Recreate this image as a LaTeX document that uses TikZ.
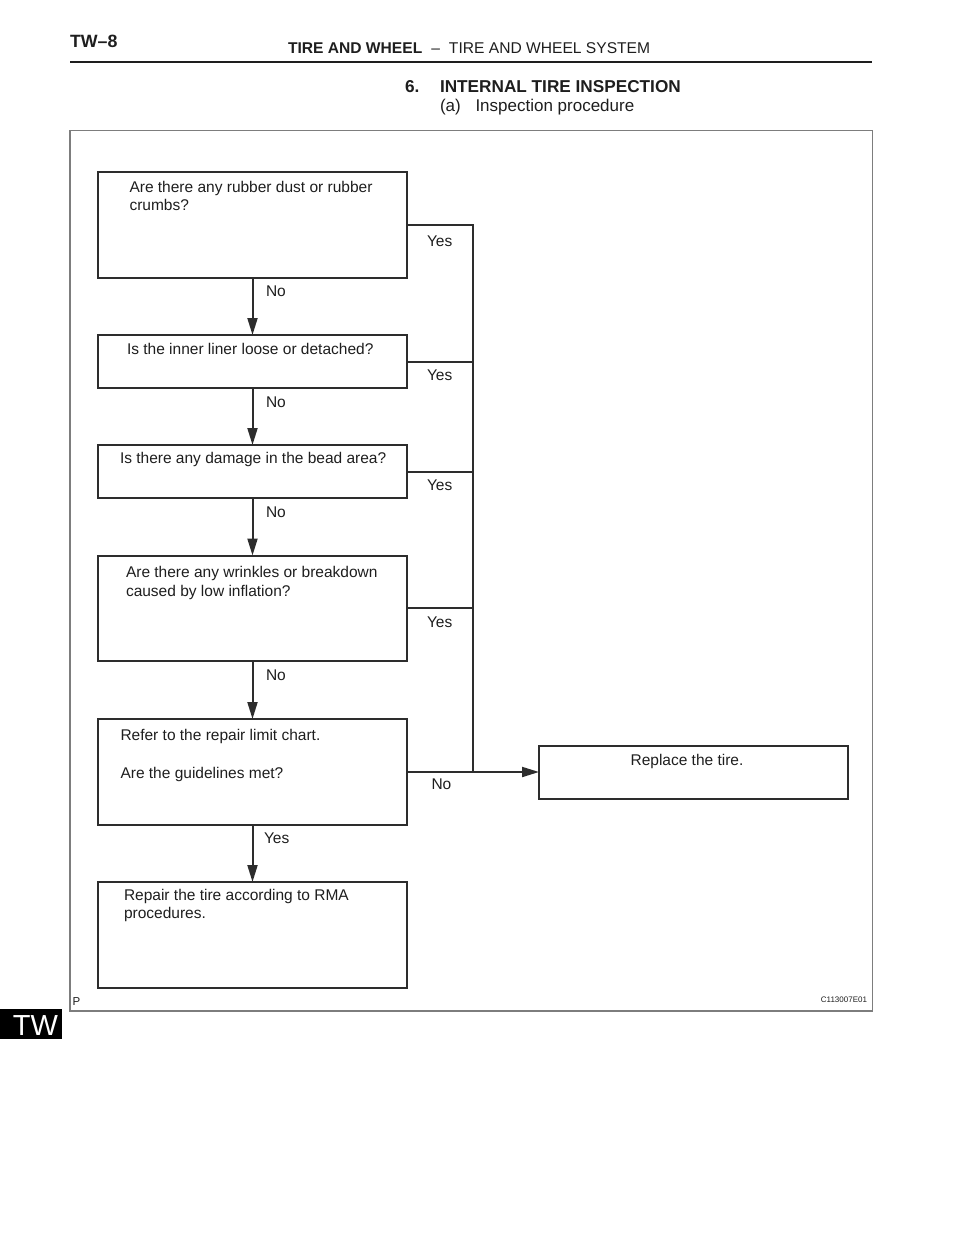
\documentclass[tikz,border=0pt]{standalone}
\usepackage{fontspec}
\setmainfont{Liberation Sans}
\usetikzlibrary{arrows.meta,positioning,calc}
\definecolor{twline}{RGB}{45,45,45}
\definecolor{twframe}{RGB}{125,125,125}
\definecolor{twtext}{RGB}{30,30,30}

\begin{document}
\begin{tikzpicture}[x=1pt, y=-1pt,
    every node/.style={inner sep=0pt, outer sep=0pt, text=twtext, font=\fontsize{15.5}{19}\selectfont},
    qbox/.style={draw=twline, line width=2pt, minimum width=309pt, anchor=north west},
    tallbox/.style={qbox, minimum height=105.5pt},
    shortbox/.style={qbox, minimum height=53pt},
    qtext/.style={anchor=base west},
    link/.style={draw=twline, line width=2pt},
    arr/.style={link, -{Triangle[length=17pt, width=10pt]}}]
    \useasboundingbox (0,0) rectangle (960,1242);

    % Page header
    \node[qtext, font=\fontsize{17.8}{20}\selectfont\bfseries] (page) at (70,47.7) {TW--8};
    \node[qtext, font=\fontsize{15.6}{18}\selectfont] (title) at (288,53.7)
        {\textbf{TIRE AND WHEEL}\hspace{9pt}--\hspace{9pt}TIRE AND WHEEL SYSTEM};
    \draw[twtext, line width=2.8pt] (70,62) -- (872,62);

    % Section heading
    \node[qtext, font=\fontsize{17.2}{20}\selectfont\bfseries] (secnum) at (405,92.7) {6.};
    \node[qtext, font=\fontsize{17.2}{20}\selectfont\bfseries] (sec) at (440,92.7) {INTERNAL TIRE INSPECTION};
    \node[qtext, font=\fontsize{17}{20}\selectfont] (subnum) at (440,111) {(a)};
    \node[qtext, font=\fontsize{17}{20}\selectfont] (sub) at (475.5,111) {Inspection procedure};

    % Frame
    \draw[twframe, line width=1.3pt] (70,130.5) rectangle (872.5,1011);

    % Question boxes
    \node[tallbox] (dust) at (98,172) {};
    \node[qtext] (dustA) at (129.5,192) {Are there any rubber dust or rubber};
    \node[qtext] (dustB) at (129.5,210.5) {crumbs?};

    \node[shortbox] (liner) at (98,335) {};
    \node[qtext] (linerA) at (127,354) {Is the inner liner loose or detached?};

    \node[shortbox] (bead) at (98,445) {};
    \node[qtext] (beadA) at (120,463.5) {Is there any damage in the bead area?};

    \node[tallbox] (wrinkle) at (98,555.5) {};
    \node[qtext] (wrinkleA) at (126,577) {Are there any wrinkles or breakdown};
    \node[qtext] (wrinkleB) at (126,596) {caused by low inflation?};

    \node[tallbox, minimum height=106pt] (chart) at (98,719) {};
    \node[qtext] (chartA) at (120.5,740) {Refer to the repair limit chart.};
    \node[qtext] (chartB) at (120.5,778.5) {Are the guidelines met?};

    % Result boxes
    \node[tallbox, minimum height=106pt] (repair) at (98,882) {};
    \node[qtext] (repairA) at (124,900) {Repair the tire according to RMA};
    \node[qtext] (repairB) at (124,918.5) {procedures.};

    \node[shortbox] (replace) at (539,745.5) {};
    \node[anchor=base] (replaceA) at (687,765) {Replace the tire.};

    % No path down the left
    \draw[arr] (dust.south) -- (liner.north);
    \draw[arr] (liner.south) -- (bead.north);
    \draw[arr] (bead.south) -- (wrinkle.north);
    \draw[arr] (wrinkle.south) -- (chart.north);
    \draw[arr] (chart.south) -- (repair.north);
    \node[qtext] (no1) at (266,296.5) {No};
    \node[qtext] (no2) at (266,407.5) {No};
    \node[qtext] (no3) at (266,517.5) {No};
    \node[qtext] (no4) at (266,680) {No};
    \node[qtext] (yes5) at (264,843) {Yes};

    % Yes path to the right
    \coordinate (rail) at (473,227);
    \draw[link] (dust.east) -- (dust.east -| rail) -- (chart.east -| rail);
    \draw[link] (liner.east) -- (liner.east -| rail);
    \draw[link] (bead.east) -- (bead.east -| rail);
    \draw[link] (wrinkle.east) -- (wrinkle.east -| rail);
    \draw[arr] (chart.east) -- (replace.west);
    \node[qtext] (yes1) at (427,246) {Yes};
    \node[qtext] (yes2) at (427,380) {Yes};
    \node[qtext] (yes3) at (427,490.5) {Yes};
    \node[qtext] (yes4) at (427,627) {Yes};
    \node[qtext] (no5) at (431.5,789) {No};

    % Frame marks
    \node[qtext, font=\fontsize{11.5}{13}\selectfont] (pmark) at (72.5,1005) {P};
    \node[anchor=base east, font=\fontsize{8}{9}\selectfont] (code) at (867,1002.3) {C113007E01};

    % Section tab
    \fill[black] (0,1008.7) rectangle (61.7,1039.3);
    \node[anchor=base, text=white, font=\fontsize{29}{32}\selectfont] (tab) at (35.5,1035.7) {TW};
\end{tikzpicture}
\end{document}
